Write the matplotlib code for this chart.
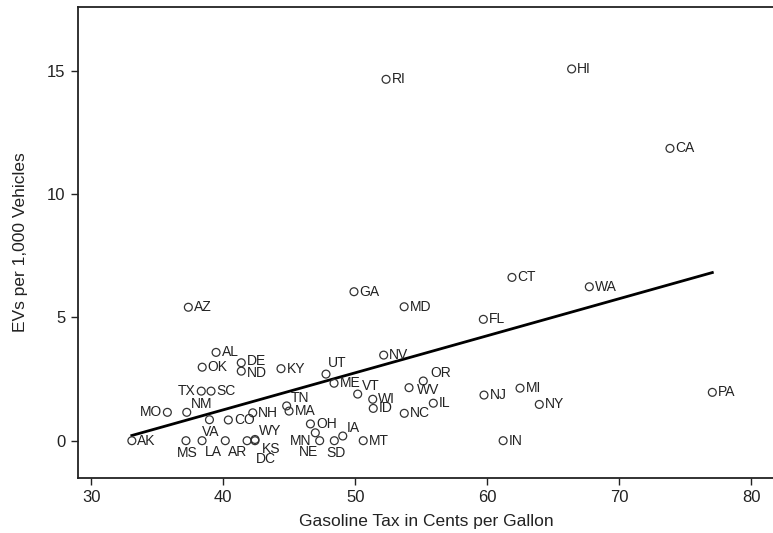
import numpy as np
import matplotlib
matplotlib.use("Agg")
import matplotlib.pyplot as plt

plt.rcParams["font.family"] = ["Liberation Sans", "DejaVu Sans"]

# state, gasoline tax (cents/gal), EVs per 1,000 vehicles
states = ["AK", "AL", "AR", "AZ", "CA", "CO", "CT", "DC", "DE", "FL",
          "GA", "HI", "IA", "ID", "IL", "IN", "KS", "KY", "LA", "MA",
          "MD", "ME", "MI", "MN", "MO", "MS", "MT", "NC", "ND", "NE",
          "NH", "NJ", "NM", "NV", "NY", "OH", "OK", "OR", "PA", "RI",
          "SC", "SD", "TN", "TX", "UT", "VA", "VT", "WA", "WI", "WV", "WY"]
gas_tax = [33.07, 39.45, 40.15, 37.35, 73.84, 40.38, 61.87, 41.80, 41.36, 59.70,
           49.90, 66.39, 49.05, 51.36, 55.91, 61.20, 42.40, 44.37, 38.39, 44.98,
           53.70, 48.39, 62.48, 46.97, 35.76, 37.17, 50.60, 53.71, 41.36, 47.30,
           42.23, 59.75, 37.23, 52.15, 63.94, 46.60, 38.40, 55.15, 77.05, 52.33,
           39.07, 48.41, 44.80, 38.33, 47.78, 38.95, 50.18, 67.73, 51.32, 54.07, 42.40]
evs_per_1000 = [0.00, 3.58, 0.00, 5.41, 11.85, 0.84, 6.62, 0.00, 3.16, 4.92,
                6.04, 15.07, 0.19, 1.31, 1.52, 0.00, 0.00, 2.92, 0.00, 1.20,
                5.43, 2.33, 2.13, 0.32, 1.15, 0.00, 0.00, 1.11, 2.82, 0.00,
                1.13, 1.85, 1.15, 3.47, 1.47, 0.68, 2.98, 2.42, 1.96, 14.65,
                2.01, 0.00, 1.41, 2.01, 2.70, 0.85, 1.89, 6.24, 1.68, 2.15, 0.05]

x_ticks = [30, 40, 50, 60, 70, 80]
y_ticks = [0, 5, 10, 15]

# Stata-style clock position for each label (default 3 o'clock)
label_clock = {"MO": 9, "TX": 9, "NM": 2, "MS": 6, "LA": 5, "AR": 5, "VA": 6,
               "TN": 2, "UT": 1, "VT": 2, "OR": 2, "WY": 2, "KS": 4, "DC": 5,
               "MN": 8, "NE": 7, "SD": 6, "IA": 2}
clock_offsets = {
    1: (1, 3, "left", "bottom"),
    2: (3, 1, "left", "bottom"),
    3: (4, 0, "left", "center"),
    4: (3, -1, "left", "top"),
    5: (2, -3, "left", "top"),
    6: (1, -4, "center", "top"),
    7: (-1, -3, "right", "top"),
    8: (-3, -1, "right", "top"),
    9: (-4, 0, "right", "center"),
}
extra_shift = {"DC": (4, -5), "KS": (2, 0), "WV": (2, -2), "OR": (2, 0),
               "DE": (0, 1), "ND": (0, -1)}

x = np.array(gas_tax)
y = np.array(evs_per_1000)

fig = plt.figure(figsize=(7.73, 5.33), dpi=100)
ax = fig.add_axes([78 / 773, 1 - 477.7 / 533, (773.7 - 78) / 773, (477.7 - 7.3) / 533])

ax.scatter(x, y, s=32, facecolors="none", edgecolors="#333333", linewidths=0.9, zorder=3)

for st, xi, yi in zip(states, x, y):
    dx, dy, ha, va = clock_offsets[label_clock.get(st, 3)]
    sx, sy = extra_shift.get(st, (0, 0))
    ax.annotate(st, (xi, yi), xytext=(dx + sx, dy + sy), textcoords="offset points",
                ha=ha, va=va, fontsize=10, color="#222222", zorder=4)

# linear fit
slope, intercept = np.polyfit(x, y, 1)
xf = np.array([x.min(), x.max()])
ax.plot(xf, intercept + slope * xf, color="black", linewidth=2.0, zorder=2)

ax.set_xlim(28.99, 81.7)
ax.set_ylim(-1.50, 17.57)
ax.set_xticks(x_ticks)
ax.set_yticks(y_ticks)
ax.tick_params(direction="out", length=5, width=1, labelsize=12, pad=4, colors="#222222")
for sp in ax.spines.values():
    sp.set_linewidth(1.3)
    sp.set_color("#222222")

ax.set_xlabel("Gasoline Tax in Cents per Gallon", fontsize=12.5, color="#222222", labelpad=6)
ax.set_ylabel("EVs per 1,000 Vehicles", fontsize=12.5, color="#222222", labelpad=14)

fig.savefig("out.png", dpi=100, facecolor="white")
